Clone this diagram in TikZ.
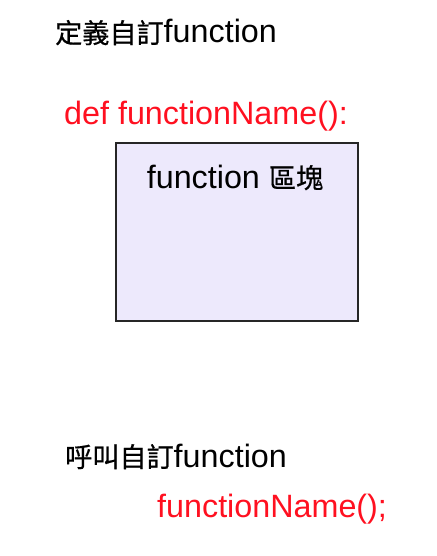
\documentclass[tikz,border=0pt]{standalone}
\usepackage{fontspec}
\setmainfont{Liberation Sans}
\newfontfamily\cjk[Scale=0.84,FakeBold=0.6]{Noto Sans CJK TC}
\usepackage{xcolor}
\usepackage{tikz}
\usetikzlibrary{positioning}
\definecolor{codered}{RGB}{255,16,32}
\definecolor{blockfill}{RGB}{237,233,252}
\tikzset{
  title/.style={anchor=base west, inner sep=0pt, font=\fontsize{32.3}{38}\selectfont},
  code/.style={title, text=codered},
  block/.style={draw=black!85, line width=1.4pt, fill=blockfill, minimum width=242pt, minimum height=178pt, inner sep=0pt}
}

\begin{document}
\begin{tikzpicture}[x=1pt,y=-1pt]
	\useasboundingbox (0,0) rectangle (436,556);
	% define part
	\node[title] (deftitle) at (55,43) {{\cjk 定義自訂}function};
	\node[code] (defline) at (64,125) {def functionName():};
	\node[block] (body) at (237,232) {};
	\node[title, anchor=base] (bodytext) at (235,188) {function {\cjk 區塊}};
	% call part
	\node[title] (calltitle) at (65,467) {{\cjk 呼叫自訂}function};
	\node[code] (callline) at (157,517) {functionName();};
\end{tikzpicture}
\end{document}
